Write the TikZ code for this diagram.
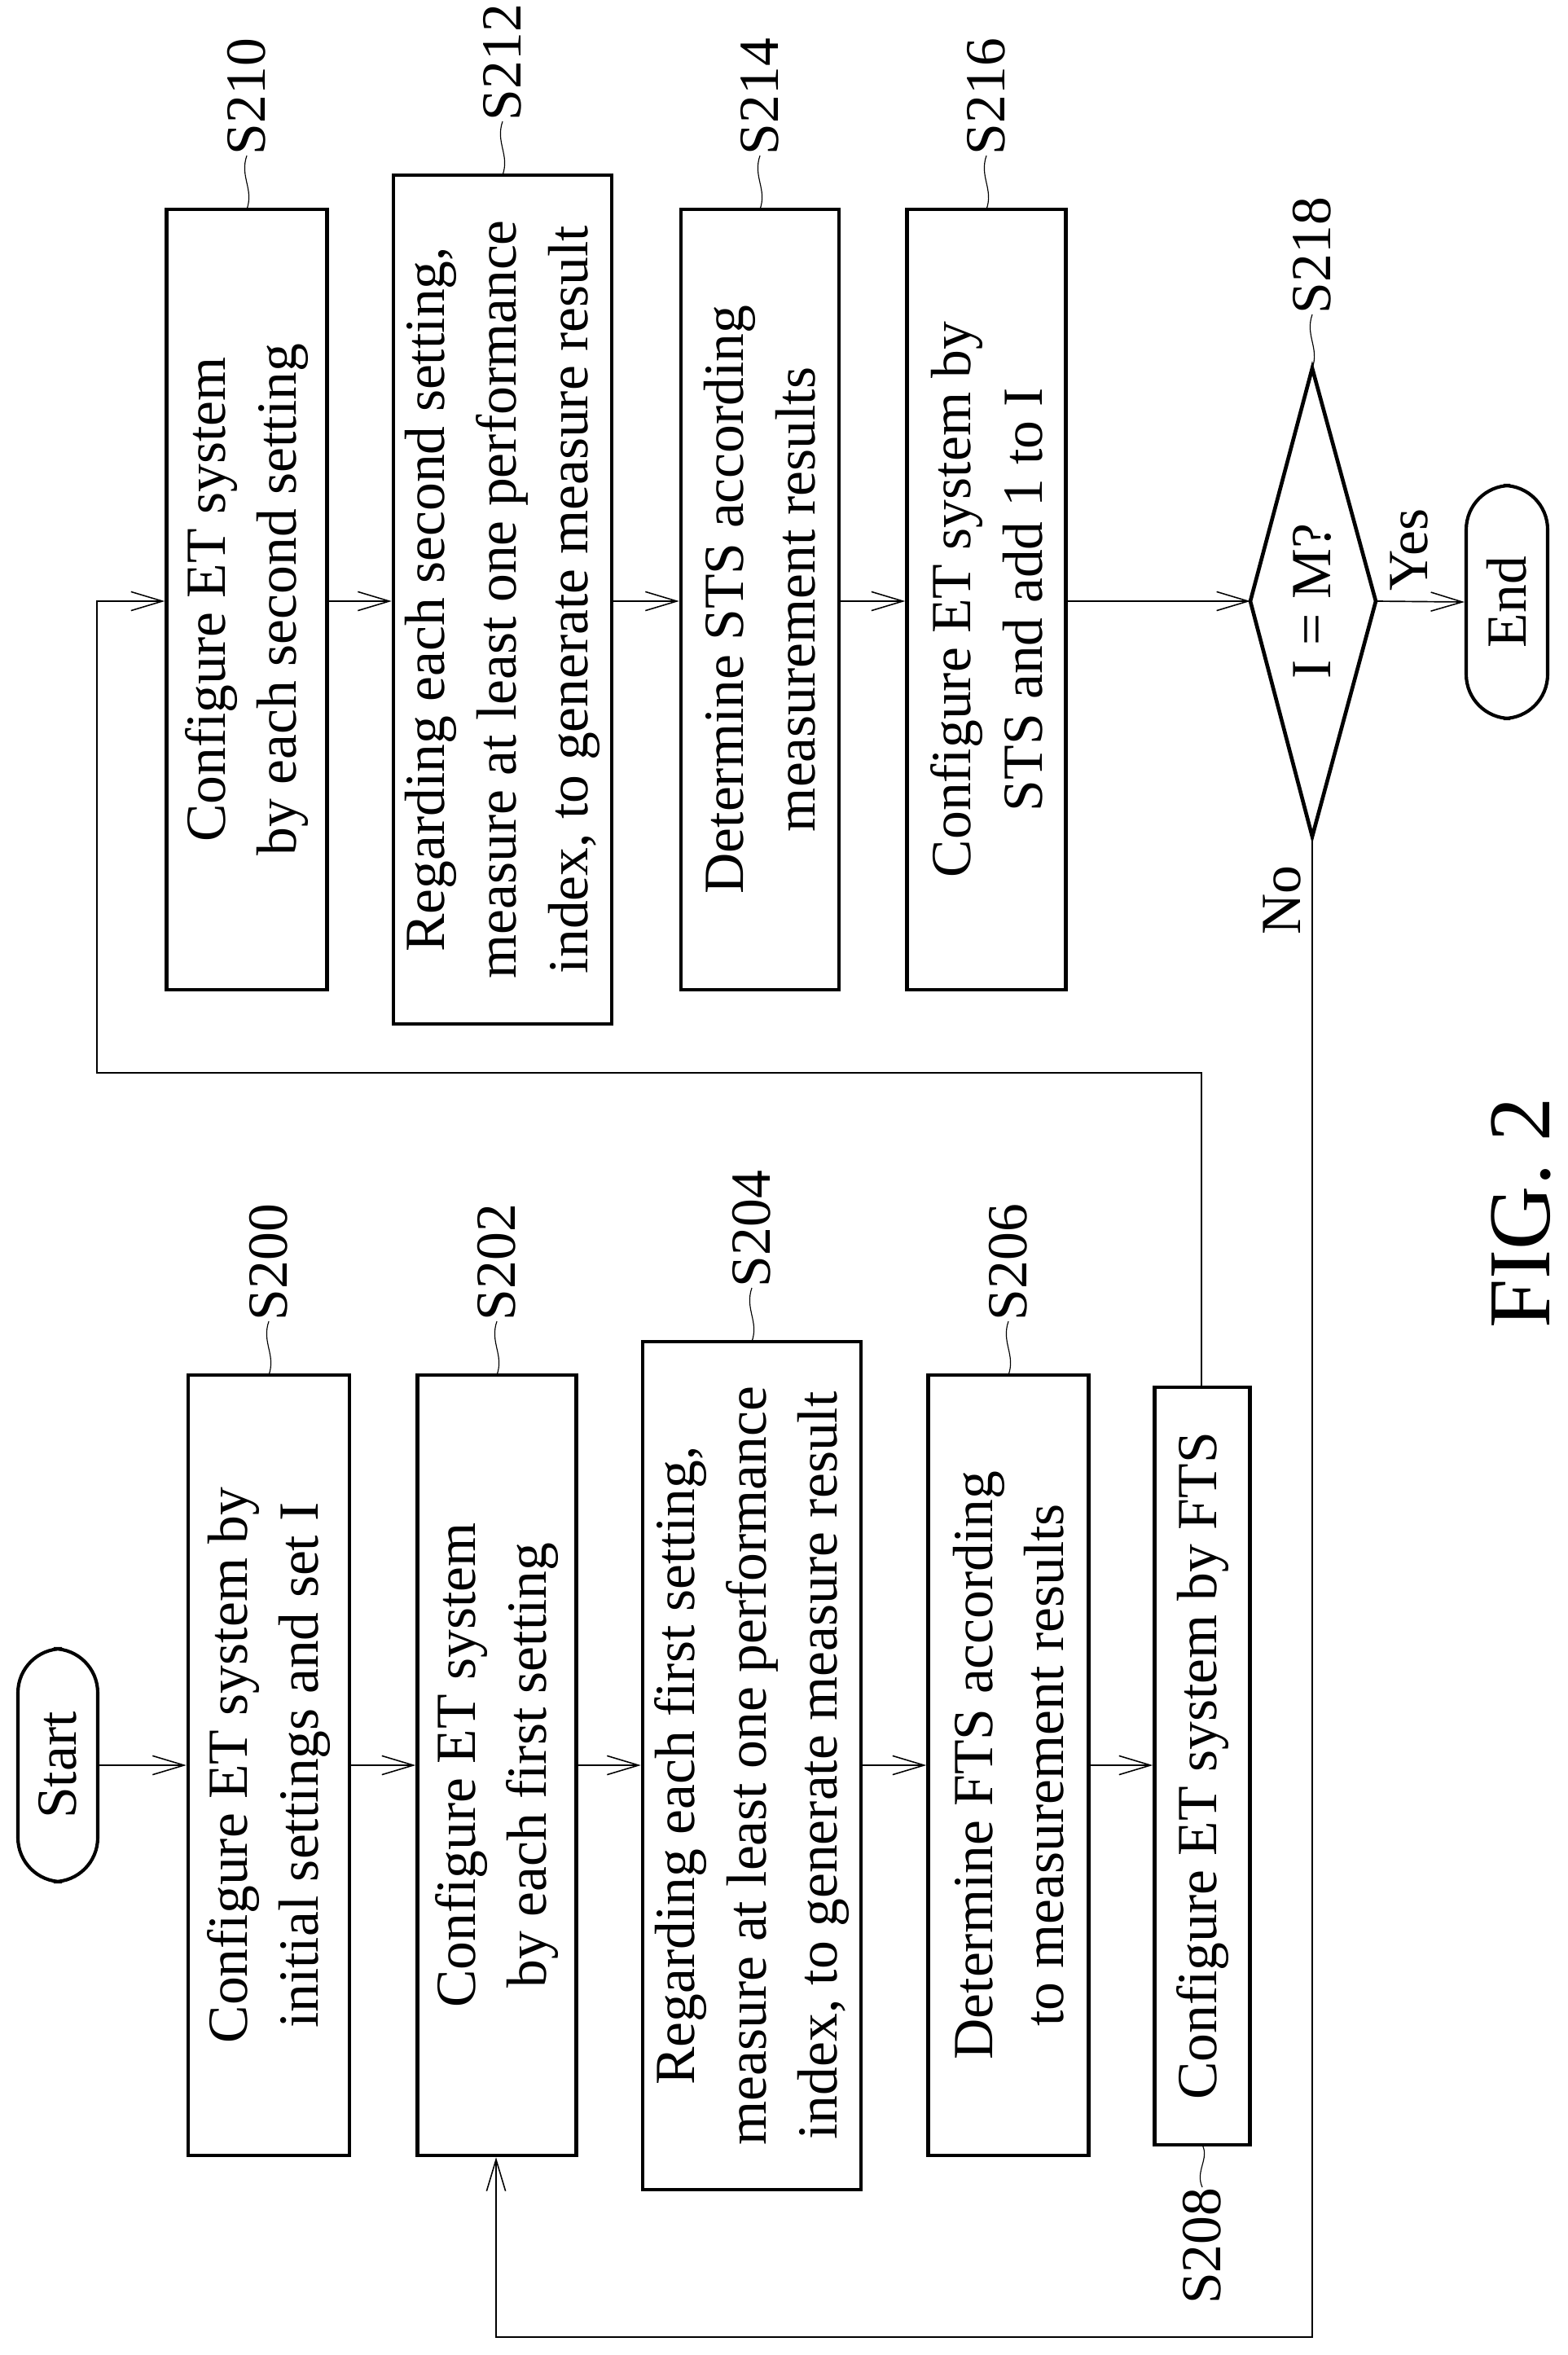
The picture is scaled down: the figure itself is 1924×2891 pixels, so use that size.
\documentclass[tikz,border=0pt]{standalone}
\usepackage{fontspec}
\setmainfont{Liberation Serif}
\usetikzlibrary{arrows.meta}
\begin{document}
\begin{tikzpicture}[x=0.02726cm,y=-0.02726cm,line width=1.3pt,
  txt/.style={font=\fontsize{54}{68}\selectfont,align=center},
  box/.style={draw,line width=3.6pt,rotate=90,txt,inner sep=0pt},
  term/.style={draw,line width=3.2pt,rotate=90,txt,rounded corners=42pt,inner sep=0pt},
  lab/.style={rotate=90,font=\fontsize{54}{60}\selectfont,anchor=west,inner sep=0pt},
  sq/.style={line width=0.9pt},
  arr/.style={-{Straight Barb[length=30pt,width=18pt,line width=1.2pt]}}]
\useasboundingbox (0,0) rectangle (1924,2891);
\def\u{0.02726cm}
% left column
\node[term,minimum width=286*\u,minimum height=98*\u] (start) at (71,2167) {Start};
\node[box,minimum width=958*\u,minimum height=198*\u] (s200) at (330,2167) {Configure ET system by\\initial settings and set I};
\node[box,minimum width=958*\u,minimum height=195*\u] (s202) at (610,2167) {Configure ET system\\by each first setting};
\node[box,minimum width=1041*\u,minimum height=268*\u] (s204) at (923,2167.5) {Regarding each first setting,\\measure at least one performance\\index, to generate measure result};
\node[box,minimum width=958*\u,minimum height=197*\u] (s206) at (1238,2167) {Determine FTS according\\to measurement results};
\node[box,minimum width=930*\u,minimum height=117*\u] (s208) at (1476,2168) {Configure ET system by FTS};
% right column
\node[box,minimum width=958*\u,minimum height=197*\u] (s210) at (303,736) {Configure ET system\\by each second setting};
\node[box,minimum width=1042*\u,minimum height=268*\u] (s212) at (617,736) {Regarding each second setting,\\measure at least one performance\\index, to generate measure result};
\node[box,minimum width=958*\u,minimum height=194*\u] (s214) at (933,736) {Determine STS according\\measurement results};
\node[box,minimum width=958*\u,minimum height=195*\u] (s216) at (1211,736) {Configure ET system by\\STS and add 1 to I};
% diamond
\coordinate (dl) at (1535,738); \coordinate (dr) at (1689,738);
\coordinate (dt) at (1611,452); \coordinate (db) at (1611,1027);
\draw[line width=3.6pt,line join=miter] (dl)--(dt)--(dr)--(db)--cycle;
\node[rotate=90,txt] (dq) at (1611,738) {I = M?};
\node[term,minimum width=286*\u,minimum height=100*\u] (end) at (1850,739) {End};
% arrows
\draw[arr] (start.south) -- (start.south -| s200.north);
\draw[arr] (s200.south) -- (s202.north);
\draw[arr] (s202.south |- start) -- (s204.north |- start);
\draw[arr] (s204.south |- start) -- (s206.north |- start);
\draw[arr] (s206.south |- start) -- (s208.north |- start);
\coordinate (c0) at (1475,1703); \coordinate (c1) at (1475,1317);
\coordinate (c2) at (119,1317); \coordinate (c3) at (119,738);
\draw[arr] (c0) -- (c1) -- (c2) -- (c3) -- (s210.north |- c3);
\draw[arr] (s210.south |- c3) -- (s212.north |- c3);
\draw[arr] (s212.south |- c3) -- (s214.north |- c3);
\draw[arr] (s214.south |- c3) -- (s216.north |- c3);
\draw[arr] (s216.south |- c3) -- (dl);
\draw[arr] (dr) -- (end.north);
\coordinate (n1) at (1611,2869); \coordinate (n2) at (609,2869);
\draw[arr] (db) -- (n1) -- (n2) -- (s202.west -| n2);
\node[rotate=90,txt] (yes) at (1730,675) {Yes};
\node[rotate=90,txt] (no) at (1574,1105) {No};
% step labels
\foreach \n/\x/\y in {200/330/1688,202/610/1688,204/923/1647,206/1238/1688,
  210/303/257,212/617/215,214/933/257,216/1211/257,218/1611/452}{
  \node[lab] (l\n) at (\x,\y-66) {S\n};
  \draw[sq] (\x,\y) .. controls (\x+9,\y-25) and (\x-9,\y-40) .. (\x,\y-66);
}
\node[lab,anchor=east] (l208) at (1476,2685) {S208};
\draw[sq] (1476,2633) .. controls (1485,2650) and (1467,2665) .. (1476,2685);
\node[rotate=90,font=\fontsize{84}{90}\selectfont] (fig) at (1867,1489) {FIG. 2};
\end{tikzpicture}
\end{document}
